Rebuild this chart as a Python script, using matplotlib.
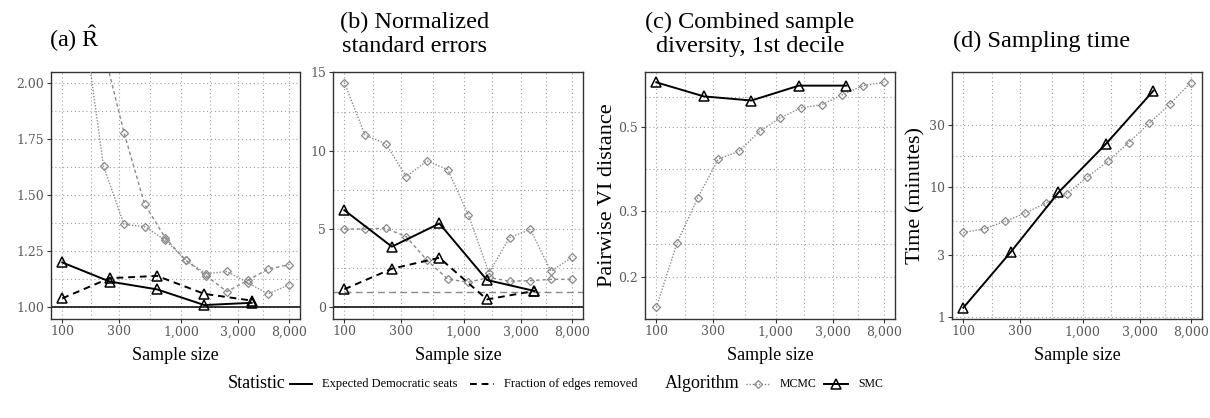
import matplotlib
matplotlib.use('Agg')
import matplotlib.pyplot as plt
from matplotlib.lines import Line2D
import matplotlib.ticker as mt

plt.rcParams['mathtext.fontset'] = 'custom'
plt.rcParams['mathtext.rm'] = 'Liberation Serif'
plt.rcParams['mathtext.it'] = 'Liberation Serif:italic'

# ---------------- data ----------------
mcmc_n = [100, 149, 222, 330, 492, 733, 1091, 1625, 2420, 3604, 5370, 8000]
smc_n = [100, 250, 625, 1562, 3906]

rhat_mcmc_seats = [3.5, 2.3, 1.63, 1.37, 1.36, 1.30, 1.21, 1.15, 1.16, 1.11, 1.06, 1.10]
rhat_mcmc_edges = [4.5, 2.9, 2.15, 1.78, 1.46, 1.31, 1.21, 1.14, 1.07, 1.12, 1.17, 1.19]
rhat_smc_seats = [1.20, 1.115, 1.08, 1.01, 1.02]
rhat_smc_edges = [1.04, 1.13, 1.14, 1.06, 1.03]

se_mcmc_seats = [14.35, 11.0, 10.45, 8.35, 9.35, 8.8, 5.9, 2.2, 4.45, 4.97, 2.3, 3.18]
se_mcmc_edges = [5.0, 5.0, 5.05, 4.5, 3.0, 1.8, 1.6, 1.9, 1.66, 1.7, 1.78, 1.78]
se_smc_seats = [6.2, 3.87, 5.35, 1.74, 1.04]
se_smc_edges = [1.15, 2.46, 3.16, 0.5, 1.04]

vi_mcmc = [0.166, 0.246, 0.324, 0.411, 0.431, 0.487, 0.529, 0.562, 0.573, 0.609, 0.644, 0.657]
vi_smc = [0.657, 0.603, 0.588, 0.644, 0.644]

time_mcmc = [4.45, 4.73, 5.41, 6.28, 7.49, 8.79, 11.9, 15.7, 21.9, 30.9, 43.5, 63.4]
time_smc = [1.17, 3.15, 9.04, 21.4, 55.1]

x_ticks = [100, 300, 1000, 3000, 8000]
x_ticklabels = ['100', '300', '1,000', '3,000', '8,000']

titles = ['(a) $\\hat{\\mathrm{R}}$', '(b) Normalized\nstandard errors',
          '(c) Combined sample\ndiversity, 1st decile', '(d) Sampling time']

# ---------------- style ----------------
W, H = 1210, 418
SERIF = 'Liberation Serif'
TICKFONT = 'DejaVu Serif'
GRAY = '#8a8a8a'
fig = plt.figure(figsize=(W / 100, H / 100), dpi=100)


def make_ax(l, r, t=72, b=318.5):
    return fig.add_axes([l / W, 1 - b / H, (r - l) / W, (b - t) / H])


def style(ax, yticks, ylabels, ylim, ylog=False, yminor=None):
    ax.set_xscale('log')
    ax.set_xlim(10 ** (2 - 0.095), 10 ** (3.903 + 0.095))
    ax.set_xticks(x_ticks)
    ax.set_xticklabels(x_ticklabels)
    ax.xaxis.set_minor_locator(mt.FixedLocator([173.2, 547.7, 1732, 4899]))
    ax.xaxis.set_minor_formatter(mt.NullFormatter())
    if ylog:
        ax.set_yscale('log')
    ax.set_ylim(*ylim)
    ax.set_yticks(yticks)
    ax.set_yticklabels(ylabels)
    ax.yaxis.set_minor_locator(mt.FixedLocator(yminor or []))
    ax.yaxis.set_minor_formatter(mt.NullFormatter())
    ax.grid(which='both', ls=(0, (1, 2.5)), color='#a0a0a0', lw=0.8)
    ax.set_axisbelow(True)
    ax.tick_params(which='major', length=3, width=0.8, color='#333333',
                   labelcolor='#5a5a5a', labelsize=9, pad=2)
    ax.tick_params(which='minor', length=0)
    for lab in ax.get_xticklabels() + ax.get_yticklabels():
        lab.set_fontfamily(TICKFONT)
    for s in ax.spines.values():
        s.set_color('#333333')
        s.set_linewidth(1.0)
    ax.set_xlabel('Sample size', fontfamily=SERIF, fontsize=13, labelpad=6)


def mcmc(ax, y, ls):
    ax.plot(mcmc_n, y, color=GRAY, ls=ls, lw=1.0, marker='D', ms=4.5,
            mfc='none', mec=GRAY, mew=0.9, zorder=3)


def smc(ax, y, ls):
    ax.plot(smc_n, y, color='black', ls=ls, lw=1.4, marker='^', ms=6.5,
            mfc='none', mec='black', mew=1.1, zorder=4)


DOT = (0, (1, 1.2))
DASH_M = (0, (2.5, 2))
DASH_S = (0, (3.5, 2.5))

# (a)
axa = make_ax(51, 300)
axa.axhline(1.0, color='black', lw=1.1, zorder=2)
mcmc(axa, rhat_mcmc_seats, DOT)
mcmc(axa, rhat_mcmc_edges, DASH_M)
smc(axa, rhat_smc_seats, '-')
smc(axa, rhat_smc_edges, DASH_S)
style(axa, [1.0, 1.25, 1.5, 1.75, 2.0], ['1.00', '1.25', '1.50', '1.75', '2.00'],
      (0.95, 2.05), yminor=[1.125, 1.375, 1.625, 1.875])

# (b)
axb = make_ax(333, 583)
axb.axhline(0, color='black', lw=1.1, zorder=2)
axb.axhline(1, color=GRAY, lw=1.0, ls=(0, (5, 3)), zorder=2)
mcmc(axb, se_mcmc_seats, DOT)
mcmc(axb, se_mcmc_edges, DASH_M)
smc(axb, se_smc_seats, '-')
smc(axb, se_smc_edges, DASH_S)
style(axb, [0, 5, 10, 15], ['0', '5', '10', '15'], (-0.72, 15.03),
      yminor=[2.5, 7.5, 12.5])

# (c)
axc = make_ax(645, 895)
mcmc(axc, vi_mcmc, DOT)
smc(axc, vi_smc, '-')
style(axc, [0.2, 0.3, 0.5], ['0.2', '0.3', '0.5'], (0.155, 0.70), ylog=True,
      yminor=[0.2449, 0.3873, 0.6])
axc.set_ylabel('Pairwise VI distance', fontfamily=SERIF, fontsize=16)
axc.yaxis.set_label_coords(-0.112, 0.5)

# (d)
axd = make_ax(952, 1202)
mcmc(axd, time_mcmc, DOT)
smc(axd, time_smc, '-')
style(axd, [1, 3, 10, 30], ['1', '3', '10', '30'], (0.966, 76.7), ylog=True,
      yminor=[1.732, 5.477, 17.32])
axd.set_ylabel('Time (minutes)', fontfamily=SERIF, fontsize=16)
axd.yaxis.set_label_coords(-0.105, 0.5)

# titles
TS = 17.5
fig.text(49 / W, 1 - 47 / H, titles[0], fontfamily=SERIF, fontsize=TS,
         ha='left', va='baseline')
for cx, txt in [(415, titles[1]), (750, titles[2])]:
    l1, l2 = txt.split('\n')
    fig.text(cx / W, 1 - 28 / H, l1, fontfamily=SERIF, fontsize=TS, ha='center', va='baseline')
    fig.text(cx / W, 1 - 52 / H, l2, fontfamily=SERIF, fontsize=TS, ha='center', va='baseline')
fig.text(953 / W, 1 - 47 / H, titles[3], fontfamily=SERIF, fontsize=TS,
         ha='left', va='baseline')

# legend
LY = 1 - 384 / H


def key(x0, x1, **kw):
    fig.add_artist(Line2D([x0 / W, x1 / W], [LY, LY], transform=fig.transFigure, **kw))


def ktxt(x, s, size):
    fig.text(x / W, LY, s, fontfamily=SERIF, fontsize=size, ha='left', va='center')


LS = 9
ktxt(228, 'Statistic', 13)
key(290, 312, color='black', lw=1.4)
ktxt(322, 'Expected Democratic seats', LS)
key(470, 494, color='black', lw=1.4, ls=DASH_S)
ktxt(504, 'Fraction of edges removed', LS)
ktxt(665, 'Algorithm', 13)
key(746, 770, color=GRAY, lw=1.0, ls=DOT)
fig.add_artist(Line2D([758 / W], [LY], transform=fig.transFigure, marker='D', ms=4.5,
                      mfc='none', mec=GRAY, mew=0.9))
ktxt(780, 'MCMC', 8.5)
key(824, 848, color='black', lw=1.4)
fig.add_artist(Line2D([836 / W], [LY], transform=fig.transFigure, marker='^', ms=6.5,
                      mfc='none', mec='black', mew=1.1))
ktxt(858, 'SMC', 8.5)

fig.savefig('out.png', dpi=100)
